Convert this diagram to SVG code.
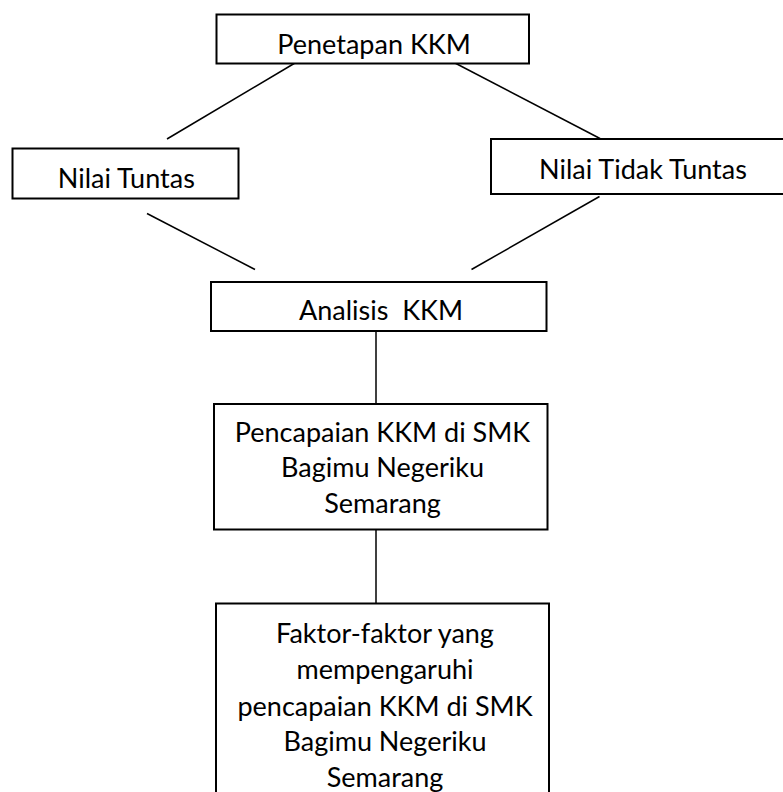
<svg xmlns="http://www.w3.org/2000/svg" width="783" height="792" viewBox="0 0 783 792">
<style>
.box{fill:#fff;stroke:#000;stroke-width:2}
.lbl{font-family:Lato,"Open Sans","Liberation Sans",sans-serif;font-size:27px;fill:#000;text-anchor:middle}
.con line{stroke:#000;stroke-width:1.5}
</style>
<rect width="783" height="792" fill="#fff"/>
<g class="con" id="connectors">
<line x1="295" y1="63" x2="167" y2="139"/>
<line x1="455" y1="63" x2="600" y2="138.5"/>
<line x1="147" y1="213.5" x2="255" y2="269.5"/>
<line x1="599.5" y1="196.5" x2="471.5" y2="269.5"/>
<line x1="376" y1="331" x2="376" y2="404"/>
<line x1="376" y1="529.5" x2="376" y2="603"/>
</g>
<g id="penetapan">
<rect class="box" x="216.5" y="14.5" width="312.5" height="49"/>
<text class="lbl" x="374" y="54.3">Penetapan KKM</text>
</g>
<g id="nilai-tuntas">
<rect class="box" x="12.5" y="148.5" width="226" height="50"/>
<text class="lbl" x="126.3" y="188.3">Nilai Tuntas</text>
</g>
<g id="nilai-tidak-tuntas">
<rect class="box" x="491" y="139" width="300" height="55"/>
<text class="lbl" x="643" y="179.3">Nilai Tidak Tuntas</text>
</g>
<g id="analisis">
<rect class="box" x="211" y="282" width="335.5" height="49"/>
<text class="lbl" x="381" y="320" xml:space="preserve">Analisis  KKM</text>
</g>
<g id="pencapaian">
<rect class="box" x="214" y="404" width="333.5" height="125.5"/>
<text class="lbl" x="382.5" y="441.5">Pencapaian KKM di SMK</text>
<text class="lbl" x="382.5" y="477">Bagimu Negeriku</text>
<text class="lbl" x="382.5" y="512.5">Semarang</text>
</g>
<g id="faktor">
<rect class="box" x="216" y="603.5" width="333" height="200"/>
<text class="lbl" x="385" y="643">Faktor-faktor yang</text>
<text class="lbl" x="385" y="679">mempengaruhi</text>
<text class="lbl" x="385" y="715.5">pencapaian KKM di SMK</text>
<text class="lbl" x="385" y="751">Bagimu Negeriku</text>
<text class="lbl" x="385" y="786.5">Semarang</text>
</g>
</svg>
